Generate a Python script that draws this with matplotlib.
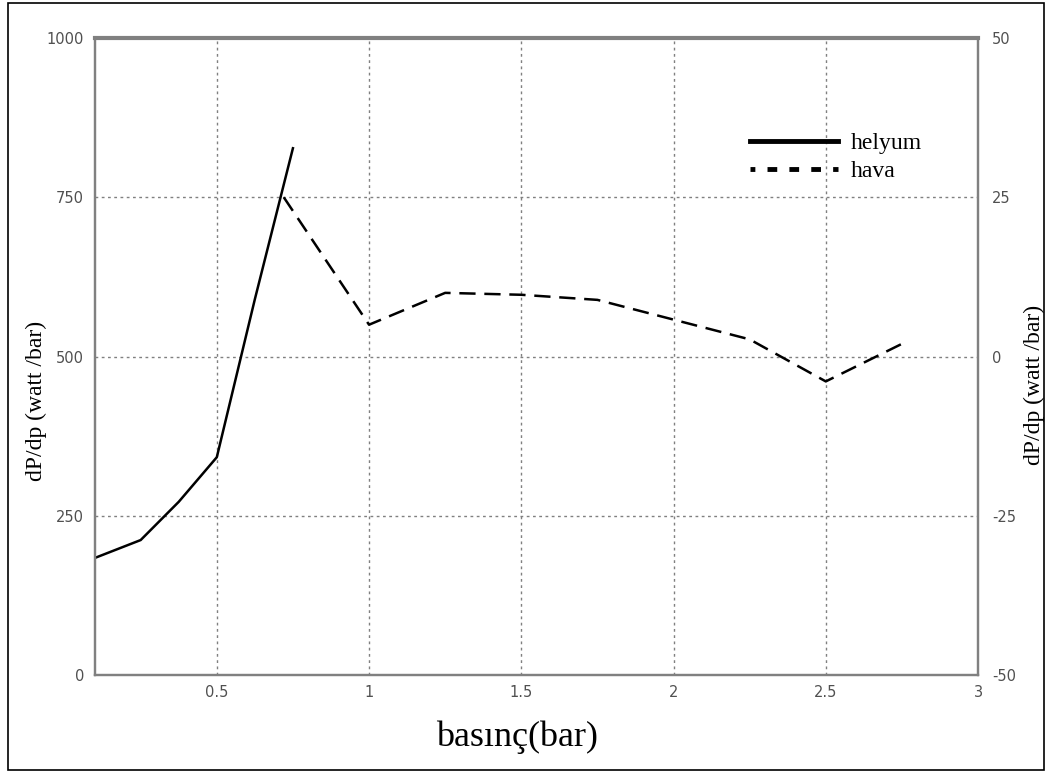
import matplotlib
matplotlib.use("Agg")
import matplotlib.pyplot as plt
from matplotlib.lines import Line2D
from matplotlib.patches import Rectangle

# helyum (left axis)
helyum_p = [0.1, 0.25, 0.375, 0.5, 0.625, 0.75]
helyum_dp = [184, 212, 272, 342, 590, 827]

# hava (right axis)
hava_p = [0.72, 1.0, 1.25, 1.5, 1.75, 2.0, 2.25, 2.5, 2.75]
hava_dp = [25.0, 5.0, 10.0, 9.7, 8.9, 5.8, 2.7, -3.9, 2.0]

left_ticks = [0, 250, 500, 750, 1000]
right_ticks = [-50, -25, 0, 25, 50]
x_ticks = [0.5, 1, 1.5, 2, 2.5, 3]
x_ticklabels = ["0.5", "1", "1.5", "2", "2.5", "3"]

GRAY = "#808080"
TICK_COLOR = "#505050"
SERIF = "Liberation Serif"

plt.rcParams["axes.unicode_minus"] = False

fig = plt.figure(figsize=(10.52, 7.76), dpi=100)
fig.patch.set_facecolor("white")
fig.patches.append(Rectangle((8 / 1052, 6 / 776), 1036 / 1052, 767 / 776,
                             transform=fig.transFigure, fill=False,
                             edgecolor="black", linewidth=1.2))

ax = fig.add_axes([0.0903, 0.130, 0.8394, 0.821])
ax2 = ax.twinx()

ax.plot(helyum_p, helyum_dp, color="black", linewidth=1.8)
ax2.plot(hava_p, hava_dp, color="black", linewidth=1.8, linestyle=(0, (6.5, 3.5)))

ax.set_xlim(0.1, 3)
ax.set_ylim(0, 1000)
ax2.set_ylim(-50, 50)

ax.set_xticks(x_ticks)
ax.set_xticklabels(x_ticklabels)
ax.set_yticks(left_ticks)
ax2.set_yticks(right_ticks)

for a in (ax, ax2):
    a.tick_params(length=0, labelsize=10.5, colors=TICK_COLOR)
    for s in a.spines.values():
        s.set_color(GRAY)
        s.set_linewidth(1.6)
ax.spines["top"].set_linewidth(3)
ax.tick_params(axis="x", pad=7)
ax.tick_params(axis="y", pad=8)
ax2.tick_params(axis="y", pad=10)

ax.grid(True, color=GRAY, linestyle=(0, (2, 2.5)), linewidth=1.0)

ax.set_xlabel("basınç(bar)", family=SERIF, fontsize=26)
ax.xaxis.set_label_coords(0.478, -0.072)
ax.set_ylabel("dP/dp (watt /bar)", family=SERIF, fontsize=17)
ax.yaxis.set_label_coords(-0.054, 0.43)
ax2.set_ylabel("dP/dp (watt /bar)", family=SERIF, fontsize=17)
ax2.yaxis.set_label_coords(1.052, 0.455)

handles = [Line2D([], [], color="black", linewidth=3.5),
           Line2D([], [], color="black", linewidth=3.5, linestyle=(1, (2, 2.5)))]
leg = ax.legend(handles, ["helyum", "hava"], loc="upper left",
                bbox_to_anchor=(0.742, 0.852), frameon=False, handlelength=3.7,
                prop={"family": SERIF, "size": 17}, labelspacing=0.28,
                handletextpad=0.55, borderpad=0, borderaxespad=0)

fig.savefig("out.png", dpi=100, facecolor="white")
